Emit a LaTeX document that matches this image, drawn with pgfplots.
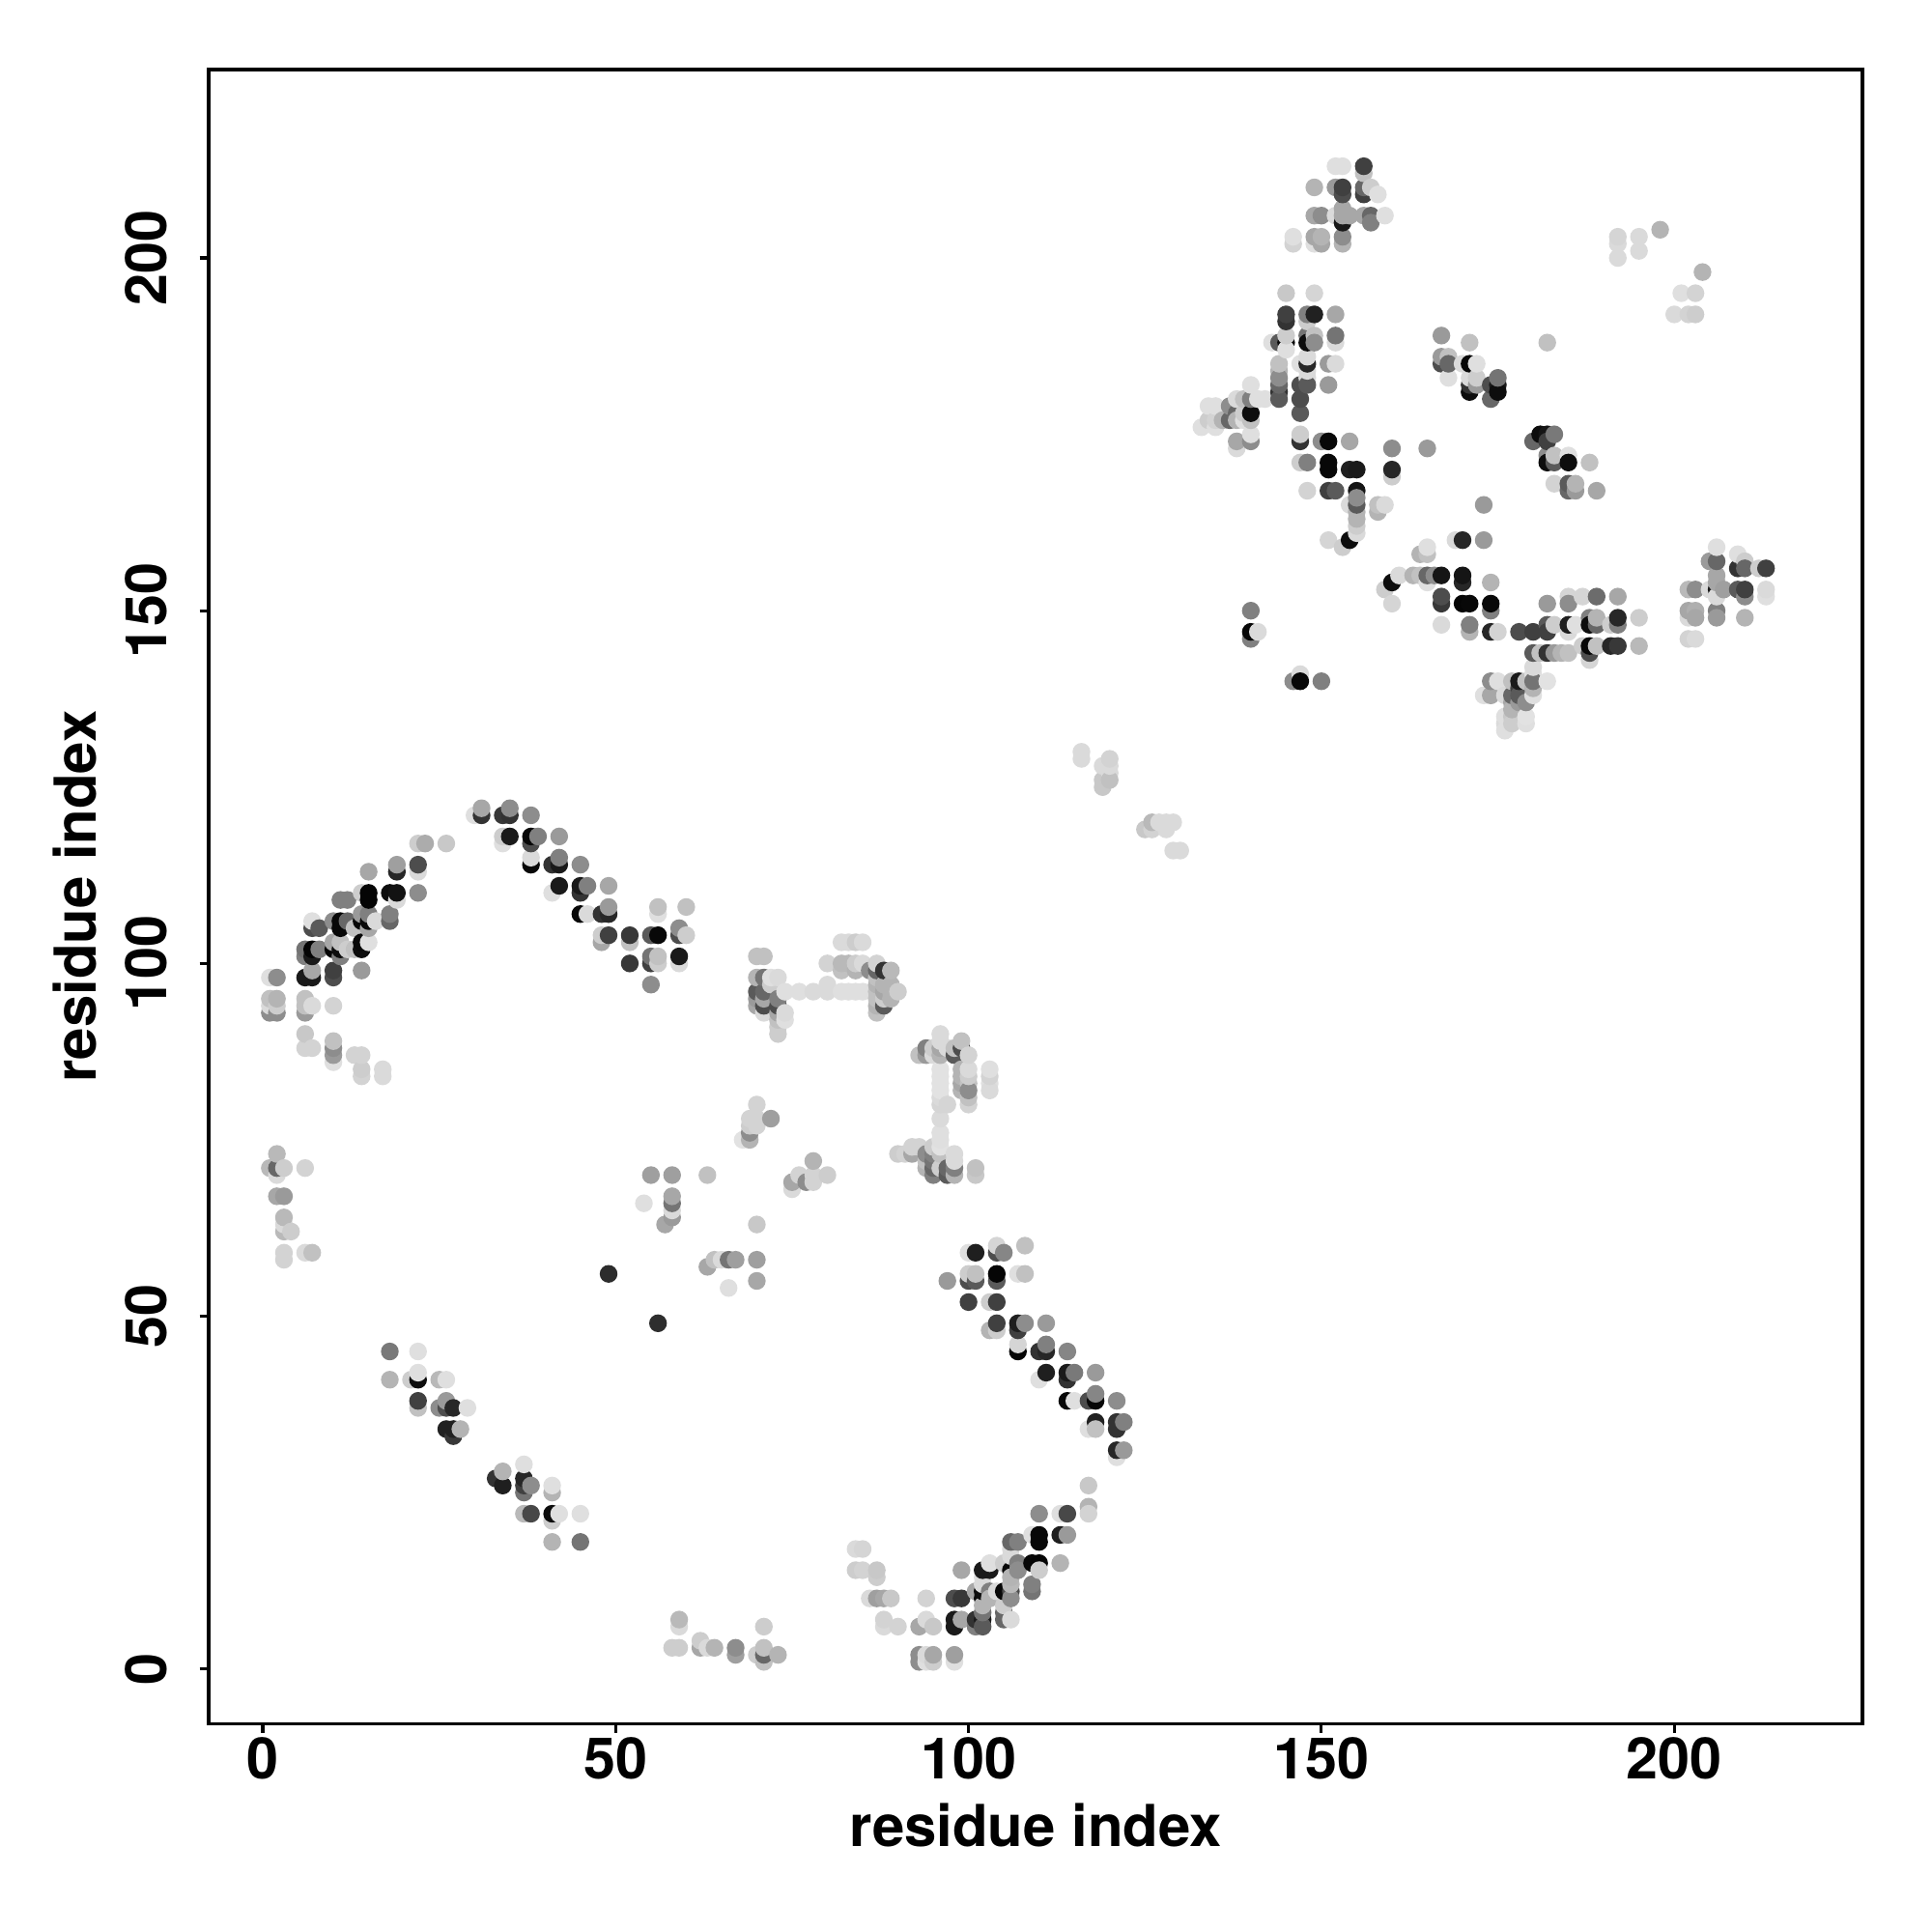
\documentclass[border=0pt]{standalone}
\usepackage{fontspec}
\setmainfont{TeX Gyre Heros}
\usepackage{pgfplots}
\usepackage{pgfplotstable}
\pgfplotsset{compat=1.18}

% contact map: x, y, grey level
\pgfplotstableread[row sep=\\]{
x y g\\
31 122 .65\\ 31 121 .2\\ 30 121 .87\\ 35 122 .55\\ 35 121 .2\\ 34 121 .22\\ 38 121 .55\\
35 118 .1\\ 34 118 .8\\ 34 117 .87\\ 38 118 .03\\ 39 118 .5\\ 38 117 .3\\ 42 118 .6\\
22 117 .8\\ 23 117 .67\\ 26 117 .78\\
38 115 .85\\ 38 114 .03\\ 42 115 .5\\ 42 114 .1\\ 41 114 .2\\ 45 114 .55\\
19 114 .62\\ 19 113 .15\\ 22 114 .3\\ 22 113 .85\\ 15 113 .65\\
42 111 .1\\ 45 111 .1\\ 46 111 .5\\ 49 111 .65\\ 45 110 .2\\ 41 110 .87\\
14 110 .8\\ 15 110 .02\\ 15 109 .02\\ 18 110 .05\\ 19 110 .07\\ 19 109 .85\\ 22 110 .55\\
11 109 .5\\ 12 109 .5\\
49 108 .6\\ 49 107 .15\\ 48 107 .2\\ 45 107 .03\\ 46 107 .85\\
18 107 .5\\ 18 106 .4\\ 14 107 .6\\ 15 107 .5\\
7 106 .87\\ 7 105 .3\\ 8 105 .35\\ 10 106 .55\\ 11 106 .03\\ 11 105 .03\\ 12 106 .4\\ 13 105 .75\\
14 106 .03\\ 15 106 .03\\ 15 105 .65\\ 16 106 .85\\
15 103 .87\\ 14 103 .03\\ 14 102 .05\\
6 102 .45\\ 7 102 .02\\ 7 101 .1\\ 6 101 .5\\ 8 102 .5\\ 10 102 .02\\ 11 102 .05\\ 11 103 .75\\
10 103 .65\\ 11 101 .5\\ 12 102 .8\\ 13 102 .75\\
14 99 .6\\ 7 99 .65\\ 6 98 .1\\ 7 98 .1\\ 10 99 .25\\ 10 98 .3\\ 1 98 .87\\ 2 98 .55\\
1 95 .75\\ 2 95 .7\\ 6 95 .75\\ 1 94 .85\\ 2 94 .8\\ 7 94 .85\\ 6 94 .75\\ 10 94 .82\\
1 93 .55\\ 2 93 .55\\ 6 93 .6\\ 6 90 .78\\ 6 88 .82\\ 7 88 .82\\
10 89 .75\\ 10 88 .55\\ 10 87 .6\\ 10 86 .87\\ 13 87 .82\\ 14 87 .82\\
14 85 .8\\ 14 84 .82\\ 17 85 .85\\ 17 84 .85\\
56 108 .75\\ 56 107 .87\\ 60 108 .75\\ 59 105 .55\\ 59 104 .3\\ 60 104 .8\\
48 104 .8\\ 49 104 .25\\ 52 104 .22\\ 52 103 .75\\ 48 103 .65\\ 55 104 .35\\ 56 104 .03\\
52 100 .22\\ 55 101 .45\\ 55 100 .25\\ 56 101 .75\\ 56 100 .8\\ 59 101 .1\\ 59 100 .85\\ 55 97 .55\\
70 101 .75\\ 71 101 .75\\ 70 98 .7\\ 70 96 .35\\ 70 95 .6\\ 70 94 .65\\
71 98 .45\\ 71 96 .4\\ 71 95 .65\\ 71 94 .3\\ 71 93 .85\\ 72 98 .87\\ 72 97 .8\\ 73 98 .85\\
73 95 .5\\ 73 94 .3\\ 73 93 .65\\ 73 92 .75\\ 73 91 .8\\ 73 90 .8\\ 74 96 .87\\ 74 93 .85\\ 74 92 .87\\
76 96 .87\\ 78 96 .85\\ 80 96 .85\\ 80 97 .85\\ 82 96 .87\\ 83 96 .87\\ 84 96 .87\\ 85 96 .87\\
82 103 .85\\ 83 103 .85\\ 84 103 .8\\ 85 103 .85\\
80 100 .82\\ 82 100 .72\\ 83 100 .72\\ 84 100 .8\\ 85 100 .85\\ 82 99 .75\\ 84 99 .7\\ 86 99 .55\\
87 100 .82\\ 88 99 .2\\ 89 99 .72\\ 87 99 .4\\
87 98 .75\\ 87 97 .7\\ 87 96 .75\\ 87 95 .75\\ 87 94 .7\\ 87 93 .75\\
88 97 .7\\ 88 96 .65\\ 88 95 .8\\ 88 94 .35\\ 89 97 .7\\ 89 96 .7\\ 89 95 .7\\ 90 96 .8\\
93 87 .75\\ 94 88 .5\\ 94 87 .6\\ 95 88 .8\\ 95 87 .85\\ 96 90 .85\\ 96 89 .85\\ 96 88 .65\\ 96 87 .7\\
97 88 .85\\ 98 88 .75\\ 98 87 .35\\ 99 89 .75\\ 99 88 .3\\ 100 87 .82\\
100 85 .85\\ 100 84 .8\\ 100 83 .75\\ 100 82 .55\\ 100 81 .75\\ 100 80 .82\\
99 85 .7\\ 99 84 .7\\ 99 83 .65\\ 99 82 .7\\
103 85 .87\\ 103 84 .82\\ 103 83 .87\\ 103 82 .85\\
96 85 .88\\ 96 84 .88\\ 96 83 .88\\ 96 82 .88\\ 96 81 .85\\ 96 80 .83\\ 97 80 .83\\ 96 78 .85\\ 96 76 .87\\ 96 75 .87\\ 96 74 .88\\
90 73 .8\\ 91 73 .82\\ 92 74 .82\\ 93 74 .82\\ 92 73 .65\\ 94 73 .55\\ 94 72 .75\\ 95 74 .8\\ 95 73 .5\\ 95 72 .45\\ 95 71 .4\\ 95 70 .5\\
96 73 .75\\ 96 71 .8\\ 97 71 .4\\ 97 70 .35\\ 98 73 .85\\ 98 72 .85\\ 98 71 .5\\ 98 70 .7\\ 101 71 .75\\ 101 70 .78\\ 94 71 .7\\
70 80 .82\\ 69 78 .82\\ 70 78 .82\\ 72 78 .62\\ 69 77 .8\\ 69 76 .55\\ 69 75 .7\\ 68 75 .88\\ 70 77 .82\\
78 72 .7\\ 75 69 .65\\ 76 70 .82\\ 77 69 .55\\ 78 70 .82\\ 78 69 .82\\ 80 70 .8\\ 75 68 .85\\
55 70 .62\\ 58 70 .62\\ 63 70 .75\\ 54 66 .87\\ 58 67 .65\\ 58 66 .45\\ 58 65 .85\\ 58 64 .6\\ 57 63 .65\\ 70 63 .78\\
63 57 .65\\ 64 58 .75\\ 65 58 .85\\ 66 58 .45\\ 67 58 .62\\ 70 58 .62\\ 70 55 .65\\ 66 54 .87\\
2 73 .72\\ 1 71 .72\\ 2 71 .4\\ 3 71 .8\\ 6 71 .82\\ 2 70 .85\\ 2 67 .65\\ 3 67 .6\\
3 64 .72\\ 3 62 .72\\ 4 62 .8\\ 3 63 .85\\ 3 59 .82\\ 3 58 .82\\ 6 59 .85\\ 7 59 .75\\
49 56 .17\\ 56 49 .18\\ 18 45 .47\\ 22 45 .87\\ 18 41 .7\\ 21 41 .8\\ 22 41 .05\\ 22 42 .87\\ 25 41 .72\\ 26 41 .87\\
22 38 .25\\ 22 37 .75\\ 25 37 .55\\ 26 38 .6\\ 26 37 .3\\ 27 37 .15\\ 29 37 .87\\
26 34 .13\\ 27 34 .13\\ 27 33 .22\\ 28 34 .7\\
33 27 .2\\ 34 28 .7\\ 34 26 .12\\ 37 29 .87\\ 37 27 .15\\ 37 25 .45\\ 38 26 .55\\ 37 26 .25\\ 41 26 .87\\ 41 25 .7\\
37 22 .72\\ 38 22 .28\\ 41 22 .05\\ 41 21 .8\\ 42 22 .87\\ 45 22 .87\\ 41 18 .7\\ 45 18 .45\\
100 59 .87\\ 101 59 .12\\ 104 60 .83\\ 104 59 .3\\ 105 59 .52\\ 108 60 .75\\
97 55 .6\\ 100 56 .8\\ 100 55 .3\\ 101 56 .75\\ 101 55 .35\\ 104 56 .02\\ 104 55 .35\\ 107 56 .87\\ 108 56 .75\\
100 52 .25\\ 103 52 .8\\ 104 52 .25\\ 104 49 .25\\ 103 48 .7\\ 104 48 .8\\ 107 49 .12\\ 107 48 .25\\ 108 49 .55\\ 111 49 .6\\
107 46 .83\\ 107 45 .02\\ 110 45 .2\\ 111 46 .5\\ 111 45 .15\\ 114 45 .52\\
111 42 .12\\ 110 41 .87\\ 114 42 .1\\ 114 41 .2\\ 115 42 .47\\ 118 42 .6\\
114 38 .03\\ 115 38 .87\\ 117 38 .3\\ 118 39 .52\\ 118 38 .03\\ 121 38 .55\\
118 35 .13\\ 117 34 .87\\ 118 34 .75\\ 121 35 .2\\ 121 34 .2\\ 122 35 .5\\ 121 31 .15\\ 122 31 .6\\ 121 30 .87\\
117 26 .78\\ 117 23 .7\\ 117 22 .82\\ 110 22 .55\\ 113 22 .87\\ 114 22 .28\\
110 19 .03\\ 110 18 .03\\ 109 19 .87\\ 113 19 .12\\ 114 19 .6\\ 106 18 .4\\ 107 18 .5\\
109 15 .03\\ 110 15 .02\\ 110 14 .8\\ 113 15 .7\\ 107 15 .5\\ 107 14 .55\\ 106 17 .85\\ 106 16 .85\\ 105 15 .8\\
106 14 .03\\ 106 13 .7\\ 109 12 .5\\ 109 11 .45\\ 99 14 .65\\ 102 14 .1\\ 103 15 .87\\ 103 14 .1\\ 102 13 .87\\
106 12 .72\\ 106 11 .3\\ 106 10 .55\\ 105 11 .03\\ 104 11 .85\\ 103 11 .5\\ 102 12 .85\\ 102 11 .05\\ 102 10 .03\\ 101 11 .65\\
98 10 .3\\ 99 10 .22\\ 103 10 .7\\ 102 9 .7\\ 105 9 .8\\ 102 8 .45\\ 102 7 .1\\ 102 6 .35\\ 101 7 .2\\ 101 6 .5\\
105 8 .4\\ 105 7 .4\\ 106 7 .85\\ 98 7 .1\\ 98 6 .1\\ 99 7 .65\\
84 17 .85\\ 85 17 .83\\ 84 14 .8\\ 85 14 .82\\ 87 14 .78\\ 87 13 .8\\ 86 10 .85\\ 87 10 .62\\ 88 10 .65\\ 89 10 .78\\ 94 10 .82\\
88 7 .82\\ 88 6 .85\\ 90 6 .82\\ 93 6 .65\\ 94 7 .85\\ 95 6 .78\\
93 2 .55\\ 93 1 .55\\ 94 2 .85\\ 94 1 .87\\ 95 2 .65\\ 95 1 .8\\ 98 2 .62\\ 98 1 .87\\
59 7 .72\\ 59 6 .85\\ 58 3 .8\\ 59 3 .8\\ 62 4 .8\\ 62 3 .65\\ 63 3 .85\\ 64 3 .7\\ 67 3 .55\\ 67 2 .62\\
71 6 .8\\ 70 2 .8\\ 71 3 .75\\ 71 2 .4\\ 71 1 .75\\ 73 2 .7\\
152 213 .87\\ 153 213 .87\\ 156 213 .25\\ 156 212 .75\\
149 210 .7\\ 152 210 .6\\ 153 210 .25\\ 153 209 .3\\ 156 210 .4\\ 156 209 .25\\ 157 210 .8\\ 158 209 .87\\
149 206 .65\\ 150 206 .55\\ 152 206 .85\\ 153 205 .1\\ 153 206 .65\\ 153 207 .65\\ 154 206 .65\\ 156 206 .65\\ 157 206 .4\\ 157 205 .5\\ 159 206 .87\\
146 203 .87\\ 146 202 .82\\ 149 203 .65\\ 149 202 .87\\ 150 203 .7\\ 150 202 .65\\ 153 203 .55\\ 153 202 .7\\
145 195 .78\\ 149 195 .83\\ 145 192 .25\\ 145 191 .2\\ 148 192 .5\\ 149 192 .13\\ 148 191 .8\\ 152 192 .65\\
145 189 .8\\ 144 188 .35\\ 143 188 .87\\ 145 188 .03\\ 145 187 .87\\ 148 189 .45\\ 149 189 .75\\ 148 188 .05\\ 149 188 .55\\ 152 189 .45\\ 152 188 .85\\
147 185 .87\\ 148 185 .15\\ 148 186 .85\\ 148 184 .85\\ 151 185 .6\\ 152 185 .85\\
144 185 .75\\ 144 184 .7\\ 144 183 .55\\ 144 182 .4\\ 144 181 .2\\ 144 180 .35\\
147 182 .3\\ 148 183 .85\\ 148 182 .35\\ 151 182 .6\\ 147 180 .3\\ 147 178 .35\\
140 182 .87\\ 134 179 .87\\ 135 179 .87\\ 137 179 .55\\ 138 180 .85\\ 139 180 .75\\ 140 180 .5\\ 141 180 .87\\ 142 180 .87\\
138 178 .4\\ 139 178 .8\\ 140 178 .05\\ 140 177 .75\\ 133 176 .87\\ 134 177 .8\\ 135 176 .87\\ 135 177 .82\\ 136 177 .7\\ 137 177 .4\\ 138 177 .7\\ 139 177 .87\\
138 174 .65\\ 138 173 .85\\ 140 175 .87\\ 140 174 .55\\
147 175 .8\\ 147 174 .2\\ 150 174 .55\\ 151 174 .03\\ 154 174 .65\\ 160 173 .55\\ 165 173 .6\\
167 189 .6\\ 171 188 .75\\ 182 188 .75\\ 167 186 .6\\ 167 185 .3\\ 168 186 .75\\ 168 185 .4\\ 170 185 .85\\ 171 185 .03\\ 172 185 .87\\
168 183 .87\\ 171 183 .85\\ 171 182 .2\\ 171 181 .05\\ 172 183 .8\\ 172 182 .6\\ 174 182 .3\\ 175 183 .45\\ 175 182 .1\\ 175 181 .05\\ 174 180 .4\\
147 171 .8\\ 148 171 .5\\ 151 171 .03\\ 151 170 .03\\ 154 170 .12\\ 155 170 .1\\ 160 170 .15\\ 160 169 .8\\
148 167 .82\\ 151 167 .25\\ 152 167 .35\\ 155 167 .08\\ 155 166 .55\\ 155 165 .35\\ 154 165 .85\\ 155 164 .7\\ 155 163 .7\\ 155 162 .8\\ 155 161 .85\\ 158 165 .75\\ 158 164 .7\\ 159 165 .85\\
151 160 .83\\ 154 160 .05\\ 153 159 .8\\ 173 165 .6\\ 170 160 .15\\ 169 160 .85\\ 173 160 .6\\
165 159 .87\\ 164 158 .7\\ 165 158 .75\\
160 154 .05\\ 159 153 .8\\ 161 155 .85\\ 163 155 .7\\ 164 155 .75\\ 165 155 .4\\ 166 155 .55\\ 167 155 .08\\ 170 155 .08\\ 170 154 .15\\ 165 154 .87\\ 174 154 .7\\
160 151 .83\\ 167 152 .3\\ 167 151 .22\\ 170 151 .02\\ 171 151 .03\\ 174 151 .03\\ 174 150 .5\\
140 150 .5\\ 140 147 .03\\ 140 146 .5\\ 141 147 .85\\ 167 148 .85\\ 171 148 .5\\ 171 147 .7\\ 174 147 .15\\ 175 147 .82\\
178 147 .3\\ 180 147 .25\\ 182 148 .35\\ 182 147 .25\\
180 144 .35\\ 181 144 .75\\ 182 144 .2\\ 183 144 .6\\ 184 144 .7\\ 185 144 .75\\
181 175 .05\\ 180 174 .4\\ 182 175 .08\\ 182 174 .25\\ 183 175 .47\\ 182 172 .55\\ 182 171 .05\\ 183 172 .75\\ 183 171 .35\\ 185 172 .87\\ 185 171 .05\\ 188 171 .75\\
183 168 .82\\ 185 168 .35\\ 185 167 .4\\ 186 168 .7\\ 186 167 .6\\ 189 167 .65\\
182 151 .6\\ 185 152 .83\\ 185 151 .55\\ 187 152 .83\\ 189 152 .42\\ 192 152 .65\\ 195 149 .8\\
183 148 .8\\ 185 148 .12\\ 186 148 .87\\ 185 147 .85\\ 188 149 .5\\ 189 149 .7\\ 188 148 .05\\ 189 148 .4\\ 192 149 .15\\ 192 148 .5\\ 191 148 .8\\
188 145 .03\\ 189 145 .75\\ 188 144 .3\\ 188 143 .83\\ 191 145 .15\\ 192 145 .22\\ 195 145 .72\\ 187 145 .8\\
180 142 .85\\ 180 141 .87\\ 180 140 .45\\ 180 139 .7\\ 180 138 .87\\ 182 140 .88\\ 174 140 .55\\ 175 140 .87\\ 173 138 .87\\ 174 138 .65\\
177 140 .75\\ 178 140 .1\\ 179 140 .75\\ 178 139 .25\\ 176 138 .85\\ 177 138 .4\\ 178 138 .35\\ 179 137 .55\\ 177 137 .65\\ 178 137 .6\\ 177 136 .7\\
176 135 .87\\ 177 135 .78\\ 176 134 .85\\ 177 134 .8\\ 176 133 .87\\ 179 135 .88\\ 179 134 .87\\
206 159 .87\\ 205 157 .6\\ 206 157 .4\\ 209 158 .87\\ 209 156 .2\\ 210 157 .8\\ 210 156 .4\\ 212 156 .8\\ 213 156 .25\\
202 153 .72\\ 203 153 .55\\ 205 153 .85\\ 206 154 .65\\ 206 153 .1\\ 206 152 .85\\ 207 153 .62\\ 206 155 .65\\
209 153 .35\\ 210 153 .25\\ 210 152 .55\\ 213 153 .85\\ 213 152 .87\\
202 150 .65\\ 202 149 .85\\ 203 150 .68\\ 203 149 .65\\ 206 150 .5\\ 206 149 .6\\ 210 149 .7\\ 202 146 .82\\ 203 146 .85\\
146 140 .55\\ 147 141 .85\\ 147 140 .03\\ 150 140 .5\\
116 130 .85\\ 116 129 .85\\ 120 129 .82\\ 120 128 .85\\ 119 128 .85\\ 120 127 .85\\ 120 126 .75\\ 119 126 .78\\ 119 125 .78\\
125 119 .78\\ 126 120 .72\\ 126 119 .82\\ 127 120 .85\\ 128 120 .85\\ 128 119 .85\\ 129 120 .85\\ 129 116 .85\\ 130 116 .85\\
192 203 .83\\ 192 202 .85\\ 192 200 .85\\ 195 203 .85\\ 195 201 .85\\ 198 204 .7\\ 204 198 .7\\ 201 195 .87\\ 203 195 .82\\ 200 192 .85\\ 202 192 .82\\ 203 192 .8\\
}\contacts

% later columns sit on top, and in a column the higher rows do
\pgfplotstablecreatecol[expr={\thisrow{x}*1000+\thisrow{y}}]{k}\contacts
\pgfplotstablesort[sort key=k]\sortedcontacts\contacts

\begin{document}
\begin{tikzpicture}
\path[use as bounding box] (-54.65pt,-54.57pt) rectangle (451.35pt,451.43pt);
\begin{axis}[
	scale only axis,
	width=433.2pt,
	height=433.2pt,
	xmin=-7.67, xmax=226.7,
	ymin=-7.75, ymax=226.7,
	xtick={0,50,100,150,200},
	ytick={0,50,100,150,200},
	tick align=outside,
	tickwidth=2.4pt,
	x tick style={black,line width=0.8pt},
	y tick style={black,line width=0.8pt},
	xtick pos=bottom,
	ytick pos=left,
	axis line style={line width=0.9pt},
	/pgf/number format/assume math mode=true,
	tick label style={font=\fontsize{15}{18}\selectfont\bfseries},
	y tick label style={rotate=90,anchor=south},
	xticklabel shift=-2.3pt,
	yticklabel shift=4.9pt,
	label style={font=\fontsize{15.15}{18}\selectfont\bfseries},
	xlabel={residue index},
	ylabel={residue index},
	xlabel style={at={(axis description cs:0.5,-0.0615)},anchor=center},
	ylabel style={at={(axis description cs:-0.081,0.5)},anchor=center},
	colormap={bw}{gray(0cm)=(0); gray(1cm)=(1)},
	point meta min=0,
	point meta max=1,
]
\addplot[
	scatter,
	only marks,
	mark=*,
	mark size=2.12pt,
	point meta=explicit,
	scatter/use mapped color={fill=mapped color,draw=mapped color},
] table[x=x,y=y,meta=g] {\sortedcontacts};
\end{axis}
\end{tikzpicture}
\end{document}
